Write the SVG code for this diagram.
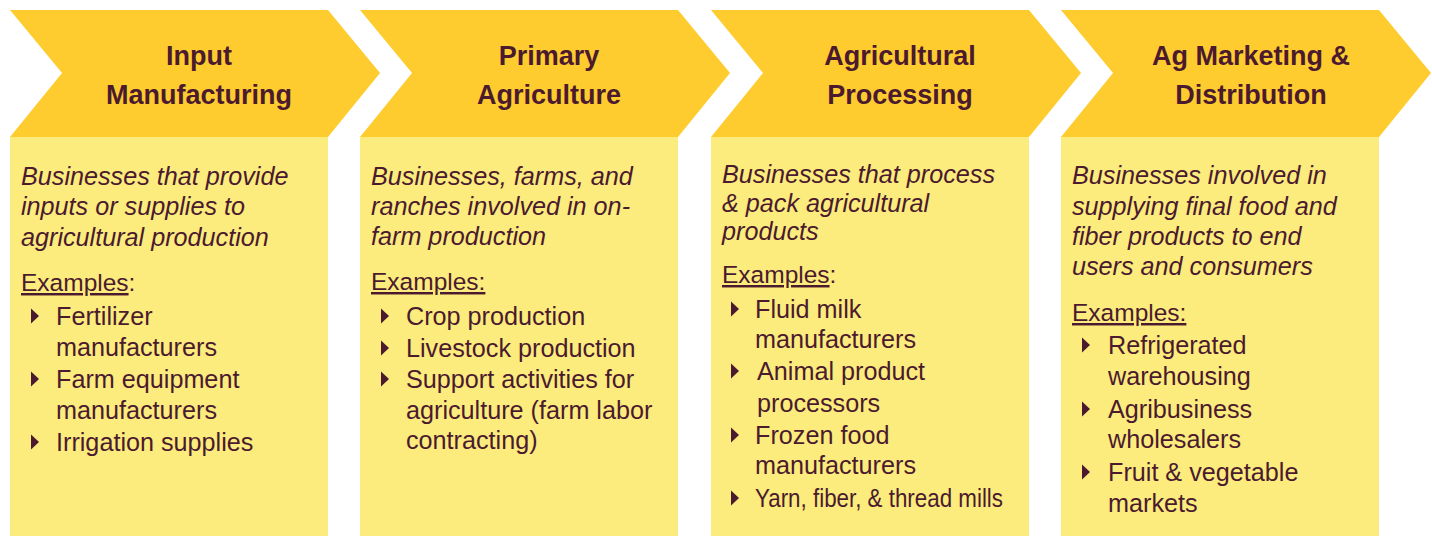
<svg xmlns="http://www.w3.org/2000/svg" width="1432" height="536" viewBox="0 0 1432 536">
<style>
.chev{fill:#FECC2E}
.body{fill:#FBEC7D}
text{fill:#4B1A2E;font-family:"Liberation Sans",Arial,sans-serif}
.title{font-size:27px;font-weight:bold;text-anchor:middle}
.desc{font-size:25.2px;font-style:italic}
.ex{font-size:24.5px}
.item{font-size:25.2px}
.u{text-decoration:underline}
.tri{fill:#4B1A2E}
</style>
<defs>
<path id="tri" d="M0,-16.5 L8,-9 L0,-1.5 Z"/>
<path id="chevShape" d="M0,10 L318,10 L370,73 L318,137 L0,137 L52,73 Z"/>
</defs>
<g id="connectors"></g>

<g id="node-input-manufacturing">
<use href="#chevShape" class="chev" x="10"/>
<rect class="body" x="10" y="137" width="318" height="399"/>
<text class="title" x="199" y="65">Input</text>
<text class="title" x="199" y="104">Manufacturing</text>
<text class="desc" x="21" y="185">Businesses that provide</text>
<text class="desc" x="21" y="215">inputs or supplies to</text>
<text class="desc" x="21" y="246">agricultural production</text>
<text class="ex" x="21" y="291"><tspan class="u">Examples</tspan>:</text>
<use href="#tri" class="tri" x="31" y="325"/>
<text class="item" x="56" y="325">Fertilizer</text>
<text class="item" x="56" y="356">manufacturers</text>
<use href="#tri" class="tri" x="31" y="388"/>
<text class="item" x="56" y="388">Farm equipment</text>
<text class="item" x="56" y="419">manufacturers</text>
<use href="#tri" class="tri" x="31" y="451"/>
<text class="item" x="56" y="451">Irrigation supplies</text>
</g>

<g id="node-primary-agriculture">
<use href="#chevShape" class="chev" x="360"/>
<rect class="body" x="360" y="137" width="318" height="399"/>
<text class="title" x="549" y="65">Primary</text>
<text class="title" x="549" y="104">Agriculture</text>
<text class="desc" x="371" y="185">Businesses, farms, and</text>
<text class="desc" x="371" y="215">ranches involved in on-</text>
<text class="desc" x="371" y="245">farm production</text>
<text class="ex" x="371" y="290"><tspan class="u">Examples:</tspan></text>
<use href="#tri" class="tri" x="381" y="325"/>
<text class="item" x="406" y="325">Crop production</text>
<use href="#tri" class="tri" x="381" y="357"/>
<text class="item" x="406" y="357">Livestock production</text>
<use href="#tri" class="tri" x="381" y="388"/>
<text class="item" x="406" y="388">Support activities for</text>
<text class="item" x="406" y="419">agriculture (farm labor</text>
<text class="item" x="406" y="449">contracting)</text>
</g>

<g id="node-agricultural-processing">
<use href="#chevShape" class="chev" x="711"/>
<rect class="body" x="711" y="137" width="318" height="399"/>
<text class="title" x="900" y="65">Agricultural</text>
<text class="title" x="900" y="104">Processing</text>
<text class="desc" x="722" y="183">Businesses that process</text>
<text class="desc" x="722" y="212">&amp; pack agricultural</text>
<text class="desc" x="722" y="240">products</text>
<text class="ex" x="722" y="283"><tspan class="u">Examples</tspan>:</text>
<use href="#tri" class="tri" x="731" y="318"/>
<text class="item" x="755" y="318">Fluid milk</text>
<text class="item" x="755" y="348">manufacturers</text>
<use href="#tri" class="tri" x="731" y="380"/>
<text class="item" x="757" y="380">Animal product</text>
<text class="item" x="757" y="412">processors</text>
<use href="#tri" class="tri" x="731" y="444"/>
<text class="item" x="755" y="444">Frozen food</text>
<text class="item" x="755" y="474">manufacturers</text>
<use href="#tri" class="tri" x="731" y="507"/>
<text class="item" x="755" y="507" textLength="248" lengthAdjust="spacingAndGlyphs">Yarn, fiber, &amp; thread mills</text>
</g>

<g id="node-ag-marketing-distribution">
<use href="#chevShape" class="chev" x="1061"/>
<rect class="body" x="1061" y="137" width="318" height="399"/>
<text class="title" x="1251" y="65">Ag Marketing &amp;</text>
<text class="title" x="1251" y="104">Distribution</text>
<text class="desc" x="1072" y="184">Businesses involved in</text>
<text class="desc" x="1072" y="215">supplying final food and</text>
<text class="desc" x="1072" y="245">fiber products to end</text>
<text class="desc" x="1072" y="275">users and consumers</text>
<text class="ex" x="1072" y="321"><tspan class="u">Examples:</tspan></text>
<use href="#tri" class="tri" x="1082" y="354"/>
<text class="item" x="1108" y="354">Refrigerated</text>
<text class="item" x="1108" y="385">warehousing</text>
<use href="#tri" class="tri" x="1082" y="418"/>
<text class="item" x="1108" y="418">Agribusiness</text>
<text class="item" x="1108" y="448">wholesalers</text>
<use href="#tri" class="tri" x="1082" y="481"/>
<text class="item" x="1108" y="481">Fruit &amp; vegetable</text>
<text class="item" x="1108" y="512">markets</text>
</g>
</svg>
